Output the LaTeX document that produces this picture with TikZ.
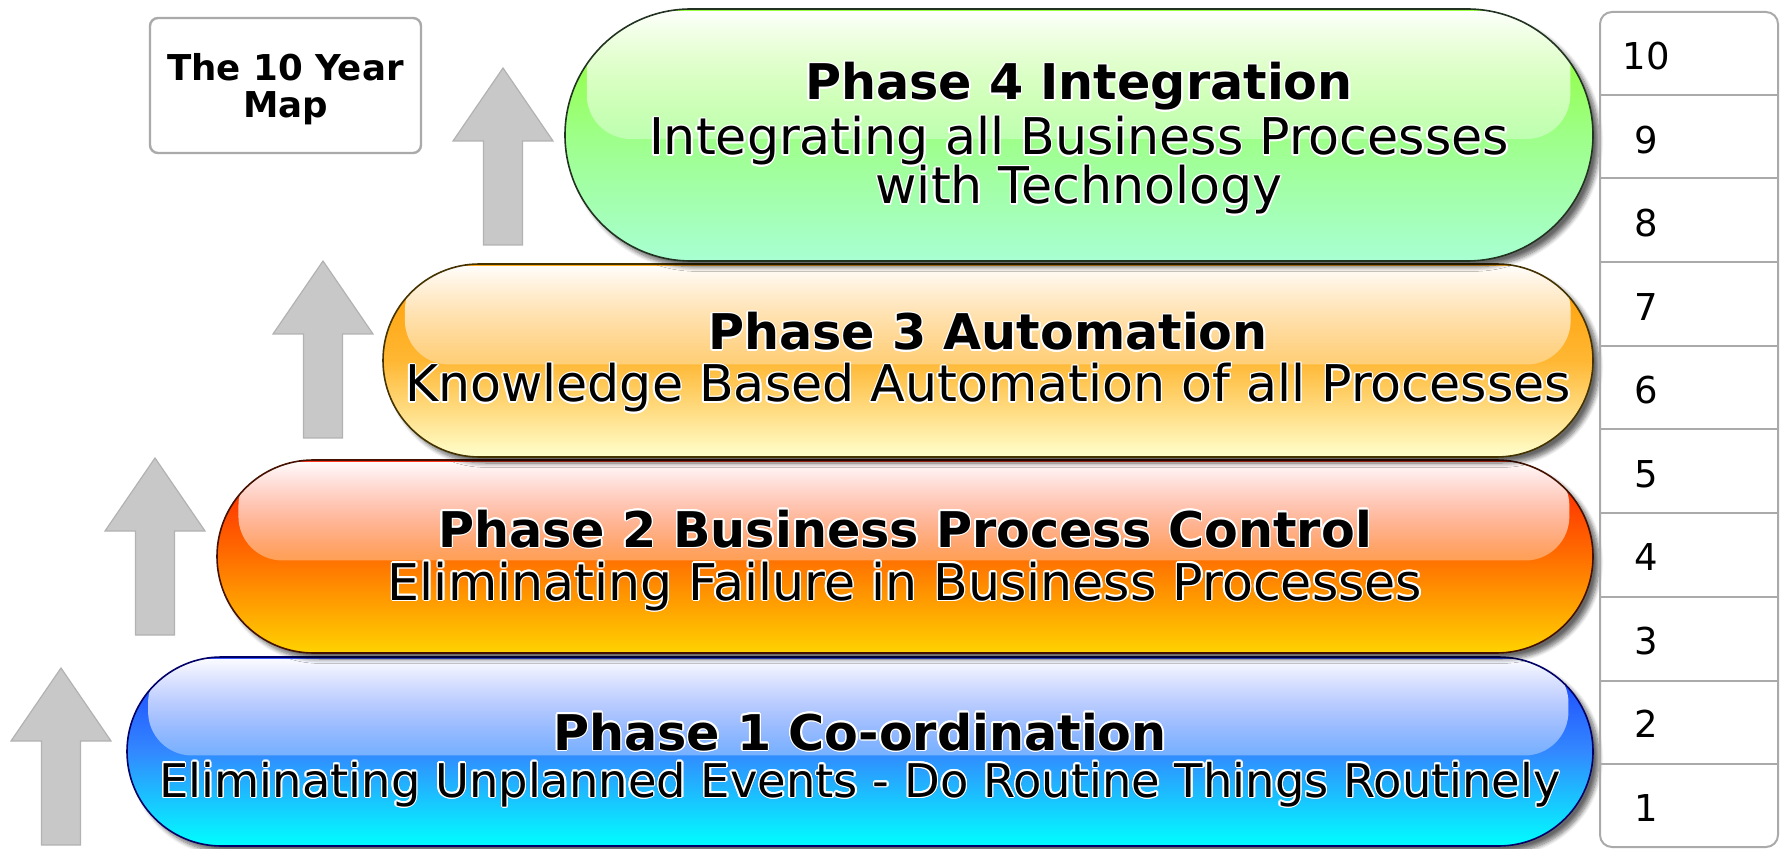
\documentclass[tikz,border=0pt]{standalone}
\usepackage{fontspec}
\setmainfont{DejaVu Sans}
\usepackage{contour}
\contourlength{0.7pt}
\usetikzlibrary{shapes.misc,shadows.blur,fadings,calc}

\definecolor{arrowgray}{HTML}{C8C8C8}
\definecolor{arrowedge}{HTML}{B2B2B2}
\definecolor{boxgray}{HTML}{AAAAAA}
% phase colours: top, middle, bottom, rim
\definecolor{coTop}{HTML}{1A3CFF}\definecolor{coMid}{HTML}{3388FF}\definecolor{coBot}{HTML}{00FFFF}\definecolor{coRim}{HTML}{000066}
\definecolor{bpTop}{HTML}{FF1A00}\definecolor{bpMid}{HTML}{FF6E00}\definecolor{bpBot}{HTML}{FFD200}\definecolor{bpRim}{HTML}{441100}
\definecolor{auTop}{HTML}{FF9C00}\definecolor{auMid}{HTML}{FFB733}\definecolor{auBot}{HTML}{FFFFCC}\definecolor{auRim}{HTML}{443300}
\definecolor{inTop}{HTML}{8CFF22}\definecolor{inMid}{HTML}{9EFF88}\definecolor{inBot}{HTML}{A8FFD2}\definecolor{inRim}{HTML}{223322}

\tikzfading[name=gloss, top color=transparent!0, bottom color=transparent!100, middle color=transparent!65]

\newcommand{\glow}[1]{\contour{white}{#1}}

\tikzset{
  pill/.style n args={4}{rounded rectangle, draw=#4, line width=0.8pt, inner sep=0pt,
    top color=#1, bottom color=#3, middle color=#2,
    blur shadow={shadow xshift=3pt, shadow yshift=-3pt, shadow opacity=60, shadow blur steps=8},
    path picture={\fill[white, path fading=gloss, rounded corners=22pt]
      ([xshift=11pt,yshift=-1pt]path picture bounding box.north west) rectangle
      ([xshift=-11pt,yshift=-2pt]path picture bounding box.east);}},
  phasetitle/.style={font=\fontsize{24.6}{30}\selectfont\bfseries, inner sep=0pt, anchor=base},
  phasetext/.style={font=\fontsize{25.3}{30}\selectfont, inner sep=0pt, anchor=base},
  uparrow/.style={fill=arrowgray, draw=arrowedge, line width=0.6pt},
  yearbox/.style={draw=boxgray, line width=1pt, rounded corners=6pt, inner sep=0pt},
  rowline/.style={draw=boxgray, line width=1pt},
  yearnum/.style={font=\fontsize{18.5}{22}\selectfont, anchor=base, inner sep=0pt},
  mapbox/.style={draw=boxgray, line width=1.2pt, rounded corners=4pt, align=center, text depth=0pt,
    minimum width=135.5pt, minimum height=67.5pt, font=\fontsize{17.8}{18.5}\selectfont\bfseries},
}

\begin{document}
\begin{tikzpicture}[x=0.5pt,y=-0.5pt]
  \useasboundingbox (0,0) rectangle (1781,849);

  % step arrows
  \foreach \a/\x/\y in {1/61/668,2/155/458,3/323/261,4/503/68} {
    \coordinate (tip\a) at (\x,\y);
    \draw[uparrow] (tip\a) -- ++(50,73) -- ++(-30.5,0) -- ++(0,104) -- ++(-39,0)
      -- ++(0,-104) -- ++(-30.5,0) -- cycle;
  }

  % the four phases, bottom first
  \node[pill={coTop}{coMid}{coBot}{coRim}, minimum width=733pt, minimum height=94.5pt] (p1) at (860,751.5) {};
  \node[pill={bpTop}{bpMid}{bpBot}{bpRim}, minimum width=688pt, minimum height=96.5pt] (p2) at (905,556.5) {};
  \node[pill={auTop}{auMid}{auBot}{auRim}, minimum width=605pt, minimum height=96.5pt] (p3) at (988,360.5) {};
  \node[pill={inTop}{inMid}{inBot}{inRim}, minimum width=514pt, minimum height=126pt] (p4) at (1079,135) {};

  \node[phasetitle] (t1) at (860,750) {\glow{Phase 1 Co-ordination}};
  \node[phasetext, font=\fontsize{23.2}{28}\selectfont] (s1) at (860,797) {\glow{Eliminating Unplanned Events - Do Routine Things Routinely}};
  \node[phasetitle] (t2) at (905,547) {\glow{Phase 2 Business Process Control}};
  \node[phasetext] (s2) at (905,600) {\glow{Eliminating Failure in Business Processes}};
  \node[phasetitle] (t3) at (988,350) {\glow{Phase 3 Automation}};
  \node[phasetext] (s3) at (988,402) {\glow{Knowledge Based Automation of all Processes}};
  \node[phasetitle] (t4) at (1079,100) {\glow{Phase 4 Integration}};
  \node[phasetext] (s4a) at (1079,155) {\glow{Integrating all Business Processes}};
  \node[phasetext] (s4b) at (1079,204) {\glow{with Technology}};

  % year scale
  \node[yearbox, minimum width=89pt, minimum height=417.5pt] (years) at (1689,429.5) {};
  \foreach \i in {1,...,9}
    \draw[rowline] ($(years.north west)!\i/10!(years.south west)$) -- ($(years.north east)!\i/10!(years.south east)$);
  \foreach \n in {1,...,10}
    \node[yearnum] (y\n) at (1646,{847-83.5*(\n-0.5)+16}) {\n};

  \node[mapbox] (map) at (285.5,85.5) {The 10 Year\\Map};
\end{tikzpicture}
\end{document}
